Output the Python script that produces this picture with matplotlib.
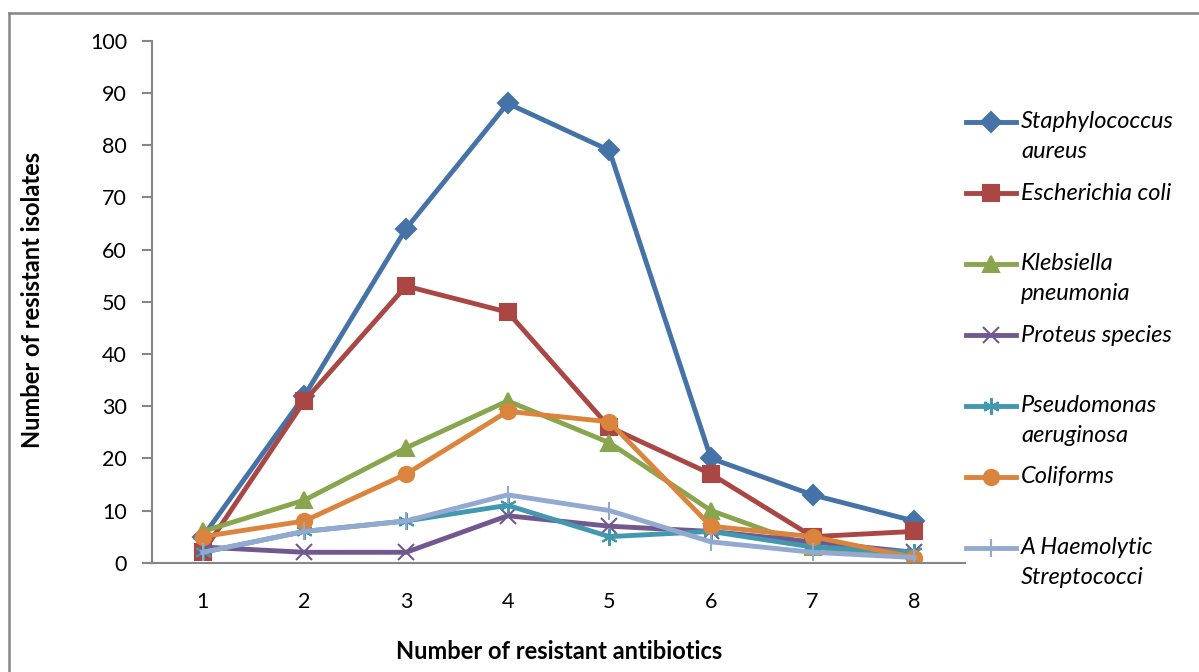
import matplotlib
matplotlib.use("Agg")
import matplotlib.pyplot as plt
from matplotlib.lines import Line2D

# number of resistant antibiotics (category axis)
antibiotics = [1, 2, 3, 4, 5, 6, 7, 8]

staph_aureus = [5, 32, 64, 88, 79, 20, 13, 8]
e_coli = [2, 31, 53, 48, 26, 17, 5, 6]
klebsiella = [6, 12, 22, 31, 23, 10, 3, 1]
proteus = [3, 2, 2, 9, 7, 6, 4, 2]
pseudomonas = [2, 6, 8, 11, 5, 6, 3, 2]
coliforms = [5, 8, 17, 29, 27, 7, 5, 1]
a_haemolytic = [2, 6, 8, 13, 10, 4, 2, 1]

series = [
    (["Staphylococcus", "aureus"], staph_aureus, "#4572A7", "D", 10),
    (["Escherichia coli"], e_coli, "#AA4643", "s", 11),
    (["Klebsiella", "pneumonia"], klebsiella, "#89A54E", "^", 11),
    (["Proteus species"], proteus, "#71588F", "x", 11),
    (["Pseudomonas", "aeruginosa"], pseudomonas, "#4198AF", (6, 2, 0), 12),
    (["Coliforms"], coliforms, "#DB843D", "o", 11),
    (["A Haemolytic", "Streptococci"], a_haemolytic, "#93A9CF", "|", 13),
]

plt.rcParams["font.family"] = ["Lato", "DejaVu Sans"]

fig = plt.figure(figsize=(11.99, 6.72), dpi=100)
ax = fig.add_axes([0.1268, 0.1626, 0.678, 0.7768])

for label, vals, color, marker, ms in series:
    ax.plot(antibiotics, vals, color=color, lw=3.5, marker=marker, ms=ms,
            mec=color, mfc=color, mew=1.5, solid_joinstyle="round")

ax.set_xlim(0.5, 8.5)
ax.set_ylim(0, 100)
ax.set_yticks(range(0, 101, 10))
ax.set_xticks(antibiotics)
for side in ("top", "right"):
    ax.spines[side].set_visible(False)
for side in ("left", "bottom"):
    ax.spines[side].set_color("#868686")
    ax.spines[side].set_linewidth(1.5)
ax.tick_params(axis="y", length=7, width=1.5, color="#868686", labelsize=15.5, pad=11)
ax.tick_params(axis="x", length=0, labelsize=15.5, pad=21)

fig.text(0.0267, 0.553, "Number of resistant isolates", rotation=90,
         ha="center", va="center", fontsize=17, fontweight="bold")
fig.text(0.466, 0.03, "Number of resistant antibiotics",
         ha="center", va="center", fontsize=17, fontweight="bold")

# outer chart border (left and top visible)
fig.add_artist(Line2D([9 / 1199, 9 / 1199], [0, 1 - 13 / 672], color="#868686", lw=1.8))
fig.add_artist(Line2D([9 / 1199, 1], [1 - 13 / 672, 1 - 13 / 672], color="#868686", lw=1.8))

# legend drawn by hand to match the spacing
y0 = 122
for i, (label, vals, color, marker, ms) in enumerate(series):
    yp = 1 - (y0 + i * 71) / 672
    fig.add_artist(Line2D([966 / 1199, 1016 / 1199], [yp, yp], color=color, lw=3.5))
    fig.add_artist(Line2D([991 / 1199], [yp], color=color, marker=marker, ms=ms,
                          mec=color, mfc=color, mew=1.5))
    for j, line in enumerate(label):
        fig.text(1021 / 1199, yp - j * 30 / 672, line, ha="left", va="center",
                 fontsize=17, style="italic")

fig.savefig("out.png", dpi=100)
